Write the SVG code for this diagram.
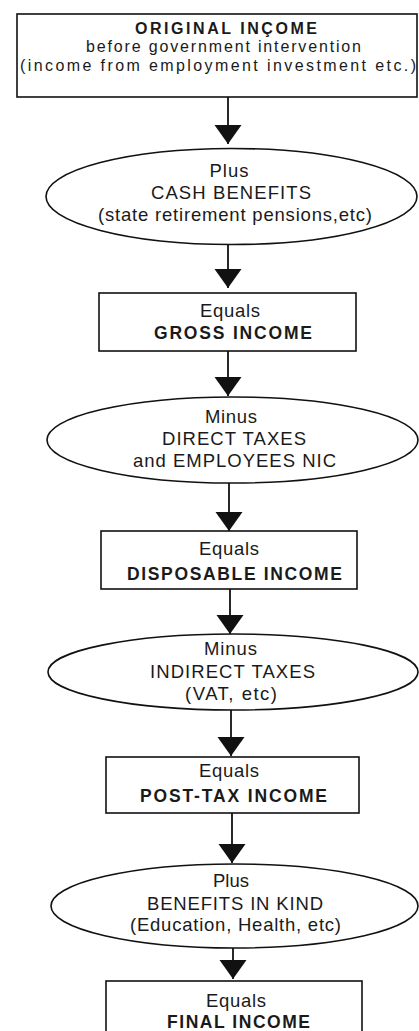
<svg xmlns="http://www.w3.org/2000/svg" width="419" height="1031" viewBox="0 0 419 1031">
<defs>
<style>
.box{fill:#fff;stroke:#111;stroke-width:1.6}
.t{font-family:"Liberation Sans",Arial,sans-serif;font-size:18.5px;fill:#1a1a1a;text-anchor:middle}
.b{font-weight:bold;font-size:17.5px}
.s{font-size:16px}
.c{stroke:#111;stroke-width:1.8;fill:none}
</style>
<marker id="ah" markerUnits="userSpaceOnUse" viewBox="0 -14 20 28" markerWidth="20" markerHeight="28" refX="19" refY="0" orient="auto">
<path d="M0,-13.5 L19,0 L0,13.5 z" fill="#111"/>
</marker>
</defs>
<rect width="419" height="1031" fill="#fff"/>
<g id="connectors">
<line class="c" x1="228" y1="97" x2="228" y2="144" marker-end="url(#ah)"/>
<line class="c" x1="228" y1="245" x2="228" y2="288" marker-end="url(#ah)"/>
<line class="c" x1="228" y1="351" x2="228" y2="396" marker-end="url(#ah)"/>
<line class="c" x1="229" y1="483" x2="229" y2="531" marker-end="url(#ah)"/>
<line class="c" x1="230" y1="589" x2="230" y2="634" marker-end="url(#ah)"/>
<line class="c" x1="231" y1="710" x2="231" y2="756" marker-end="url(#ah)"/>
<line class="c" x1="232" y1="813" x2="232" y2="863" marker-end="url(#ah)"/>
<line class="c" x1="233" y1="948" x2="233" y2="979" marker-end="url(#ah)"/>
</g>
<g id="original-income">
<rect class="box" x="17" y="14" width="400" height="83"/>
<text class="t b s" x="226" y="33.5" textLength="182" lengthAdjust="spacing">ORIGINAL INÇOME</text>
<text class="t s" x="223.5" y="52" textLength="275" lengthAdjust="spacing">before government intervention</text>
<text class="t s" x="218" y="70.5" textLength="396" lengthAdjust="spacing">(income from employment investment etc.)</text>
</g>
<g id="cash-benefits">
<ellipse class="box" cx="231.5" cy="196.5" rx="185.5" ry="48"/>
<text class="t" x="229" y="177" textLength="39" lengthAdjust="spacing">Plus</text>
<text class="t" x="231" y="199" textLength="160" lengthAdjust="spacing">CASH BENEFITS</text>
<text class="t" x="235" y="221" textLength="274" lengthAdjust="spacing">(state retirement pensions,etc)</text>
</g>
<g id="gross-income">
<rect class="box" x="99" y="293" width="257" height="58"/>
<text class="t" x="230" y="317" textLength="60" lengthAdjust="spacing">Equals</text>
<text class="t b" x="233" y="339" textLength="158" lengthAdjust="spacing">GROSS INCOME</text>
</g>
<g id="direct-taxes">
<ellipse class="box" cx="232.5" cy="440" rx="185.5" ry="43"/>
<text class="t" x="231" y="423" textLength="52" lengthAdjust="spacing">Minus</text>
<text class="t" x="234" y="445" textLength="144" lengthAdjust="spacing">DIRECT TAXES</text>
<text class="t" x="234.5" y="467" textLength="203" lengthAdjust="spacing">and EMPLOYEES NIC</text>
</g>
<g id="disposable-income">
<rect class="box" x="101" y="531" width="256" height="58"/>
<text class="t" x="229" y="555" textLength="60" lengthAdjust="spacing">Equals</text>
<text class="t b" x="234.5" y="580" textLength="215" lengthAdjust="spacing">DISPOSABLE INCOME</text>
</g>
<g id="indirect-taxes">
<ellipse class="box" cx="233" cy="672" rx="185" ry="38"/>
<text class="t" x="230.5" y="655" textLength="53" lengthAdjust="spacing">Minus</text>
<text class="t" x="232.5" y="678" textLength="165" lengthAdjust="spacing">INDIRECT TAXES</text>
<text class="t" x="231" y="700" textLength="92" lengthAdjust="spacing">(VAT, etc)</text>
</g>
<g id="post-tax-income">
<rect class="box" x="106" y="757" width="253" height="56"/>
<text class="t" x="229" y="777" textLength="60" lengthAdjust="spacing">Equals</text>
<text class="t b" x="233.5" y="802" textLength="187" lengthAdjust="spacing">POST-TAX INCOME</text>
</g>
<g id="benefits-in-kind">
<ellipse class="box" cx="234.5" cy="906" rx="183.5" ry="42"/>
<text class="t" x="231" y="887" textLength="36" lengthAdjust="spacing">Plus</text>
<text class="t" x="235" y="910" textLength="176" lengthAdjust="spacing">BENEFITS IN KIND</text>
<text class="t" x="235.5" y="931" textLength="211" lengthAdjust="spacing">(Education, Health, etc)</text>
</g>
<g id="final-income">
<rect class="box" x="106" y="981" width="256" height="70"/>
<text class="t" x="236" y="1007" textLength="60" lengthAdjust="spacing">Equals</text>
<text class="t b" x="238.5" y="1028" textLength="143" lengthAdjust="spacing">FINAL INCOME</text>
</g>
</svg>
